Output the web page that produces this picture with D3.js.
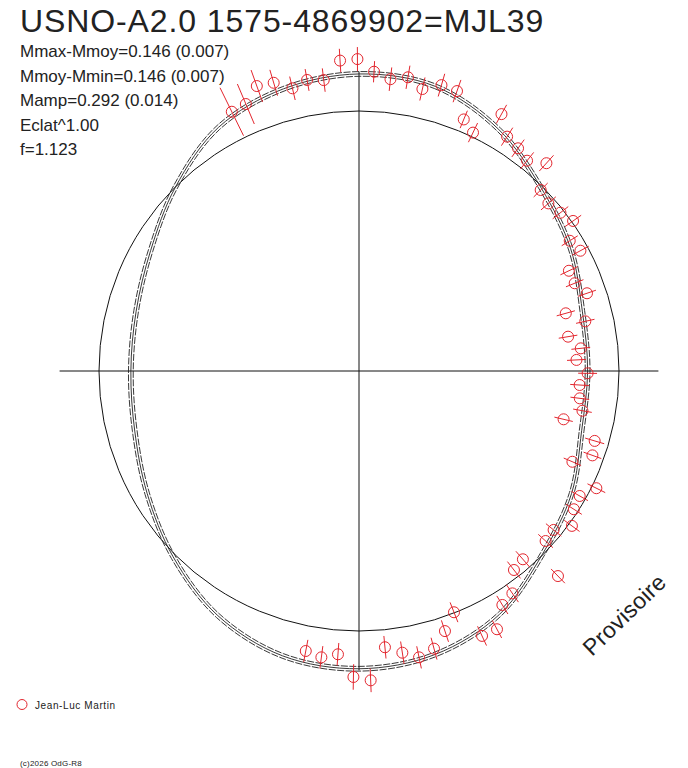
<!DOCTYPE html>
<html>
<head>
<meta charset="utf-8">
<script src="https://cdn.jsdelivr.net/npm/d3@7"></script>
<style>
body{margin:0;background:#fff}
text{font-family:"Liberation Sans",Arial,sans-serif;fill:#222}
</style>
</head>
<body>
<svg id="myGraph" width="688" height="768"></svg>
<script>
// titre et infos
var title = "USNO-A2.0 1575-4869902=MJL39";
var infoLines = ["Mmax-Mmoy=0.146 (0.007)", "Mmoy-Mmin=0.146 (0.007)", "Mamp=0.292 (0.014)", "Eclat^1.00", "f=1.123"];
var observer = "Jean-Luc Martin";
var copyright = "(c)2026 OdG-R8";
var stamp = "Provisoire";

// mesures : phase (0-1), ecart en magnitude, erreur
var phases = [0.9274,0.9362,0.9452,0.9542,0.9632,0.9719,0.9808,0.9903,0.9992,0.0080,
  0.0171,0.0263,0.0352,0.0447,0.0536,0.0628,0.0710,0.0806,0.0897,0.0987,
  0.1073,0.1168,0.1253,0.1347,0.1440,0.1527,0.1619,0.1708,0.1791,0.1885,
  0.1977,0.2067,0.2156,0.2241,0.2338,0.2419,0.2516,0.2601,0.2696,0.2780,
  0.2869,0.2959,0.3052,0.3140,0.3230,0.3320,0.3410,0.3501,0.3590,0.3676,
  0.3774,0.3860,0.3947,0.4039,0.4125,0.4219,0.4308,0.4403,0.4492,0.4580,
  0.4671,0.4757,0.4851,0.4940,0.5029,0.5118,0.5208,0.5299];
var dmag = [0.122,0.127,0.181,0.172,0.129,0.151,0.140,0.216,0.220,0.168,
  0.142,0.160,0.123,0.159,0.155,0.053,0.018,0.143,0.073,0.058,
  0.039,0.084,-0.015,-0.030,-0.016,0.006,-0.052,-0.034,-0.116,-0.115,
  -0.081,-0.192,-0.120,-0.204,-0.157,-0.179,-0.133,-0.165,-0.159,-0.140,
  -0.211,-0.060,-0.050,-0.119,0.020,-0.027,-0.019,0.014,-0.037,-0.032,
  0.109,-0.044,-0.033,0.043,0.061,0.139,0.136,-0.003,0.059,0.117,
  0.138,0.106,0.074,0.210,0.195,0.102,0.122,0.106];
var errs = [0.113,0.092,0.072,0.057,0.051,0.047,0.050,0.050,0.051,0.045,
  0.050,0.050,0.050,0.050,0.050,0.040,0.045,0.045,0.045,0.045,
  0.045,0.045,0.042,0.042,0.042,0.042,0.040,0.040,0.040,0.040,
  0.040,0.040,0.040,0.040,0.040,0.040,0.040,0.040,0.040,0.040,
  0.040,0.042,0.040,0.040,0.042,0.040,0.040,0.040,0.042,0.042,
  0.042,0.045,0.045,0.045,0.045,0.042,0.045,0.045,0.048,0.048,
  0.048,0.048,0.048,0.050,0.054,0.048,0.048,0.048];

// courbe ajustee (degres de phase, ecart moyen) et son incertitude
var fitAngle = [0,15,30,45,60,75,90,105,120,135,150,165,180,195,210,225,240,255,270,285,300,315,330,345];
var fitMean = [0.157,0.147,0.081,-0.008,-0.066,-0.122,-0.133,-0.125,-0.062,-0.003,0.089,0.142,
  0.160,0.148,0.095,0.012,-0.065,-0.118,-0.135,-0.124,-0.082,-0.001,0.090,0.136];
var fitSigma = 0.01;
var refLevel = 0;

var svg = d3.select("#myGraph");
var cx = 359, cy = 371;
var red = "#e3262e";

// magnitude -> rayon
var rScale = d3.scaleLinear().domain([0, 0.1]).range([260, 283.6]);

var g = svg.append("g").attr("transform", "translate(" + cx + "," + cy + ")");

// axes
var axisR = rScale(d3.max(fitMean) + 0.007);
g.append("line").attr("x1", -axisR).attr("x2", axisR).attr("y1", 0).attr("y2", 0)
  .attr("stroke", "#111").attr("stroke-width", 1);
g.append("line").attr("x1", 0).attr("x2", 0).attr("y1", -axisR).attr("y2", axisR)
  .attr("stroke", "#111").attr("stroke-width", 1);

// cercle de reference
g.append("circle").attr("r", rScale(refLevel))
  .attr("fill", "none").attr("stroke", "#111").attr("stroke-width", 1);

// courbes ajustees
var radial = d3.lineRadial()
  .angle(function(d){ return d[0] * Math.PI / 180; })
  .radius(function(d){ return rScale(d[1]); })
  .curve(d3.curveCatmullRomClosed);

[-fitSigma, 0, fitSigma].forEach(function(off){
  var pts = fitAngle.map(function(a, i){ return [a, fitMean[i] + off]; });
  g.append("path").attr("d", radial(pts))
    .attr("fill", "none").attr("stroke", "#222").attr("stroke-width", 0.9)
    .attr("stroke-dasharray", off === 0 ? null : "7,1.5");
});

// mesures
var obs = phases.map(function(p, i){ return {a: p * 2 * Math.PI, m: dmag[i], e: errs[i]}; });

var marks = g.selectAll("g.mark").data(obs).enter().append("g").attr("class", "mark");
marks.append("line")
  .attr("x1", function(d){ return d3.pointRadial(d.a, rScale(d.m - d.e))[0]; })
  .attr("y1", function(d){ return d3.pointRadial(d.a, rScale(d.m - d.e))[1]; })
  .attr("x2", function(d){ return d3.pointRadial(d.a, rScale(d.m + d.e))[0]; })
  .attr("y2", function(d){ return d3.pointRadial(d.a, rScale(d.m + d.e))[1]; })
  .attr("stroke", red).attr("stroke-width", 1);
marks.append("circle")
  .attr("cx", function(d){ return d3.pointRadial(d.a, rScale(d.m))[0]; })
  .attr("cy", function(d){ return d3.pointRadial(d.a, rScale(d.m))[1]; })
  .attr("r", 5.5)
  .attr("fill", "none").attr("stroke", red).attr("stroke-width", 1);

// textes
svg.append("text").attr("x", 20).attr("y", 32)
  .style("font-size", "32px").style("letter-spacing", "0.9px").text(title);

svg.selectAll("text.info").data(infoLines).enter().append("text")
  .attr("class", "info")
  .attr("x", 20)
  .attr("y", function(d, i){ return 57 + i * 24.5; })
  .style("font-size", "17px")
  .text(function(d){ return d; });

svg.append("circle").attr("cx", 22).attr("cy", 704.5).attr("r", 5)
  .attr("fill", "none").attr("stroke", red).attr("stroke-width", 1);
svg.append("text").attr("x", 35).attr("y", 709)
  .style("font-size", "10px").style("letter-spacing", "0.6px").text(observer);

svg.append("text").attr("x", 20).attr("y", 766)
  .style("font-size", "8px").style("letter-spacing", "0.2px").text(copyright);

svg.append("text")
  .attr("transform", "translate(592,657) rotate(-44)")
  .style("font-size", "23px").style("letter-spacing", "0.3px").text(stamp);
</script>
</body>
</html>
